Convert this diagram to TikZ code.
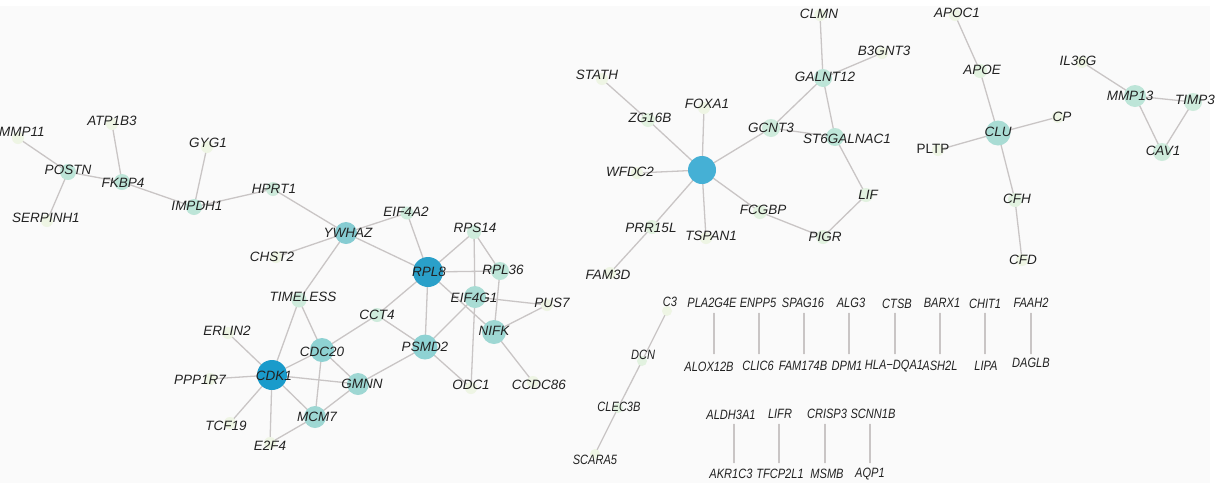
\documentclass[tikz,border=0pt]{standalone}
\usepackage{fontspec}
\setmainfont{Liberation Sans}
\pgfdeclarelayer{bg}
\pgfdeclarelayer{edges}
\pgfdeclarelayer{labels}
\pgfsetlayers{bg,edges,main,labels}
\definecolor{leaf}{HTML}{EEF5E4}
\definecolor{dk}{HTML}{1A9BCB}
\definecolor{dkb}{HTML}{2AA0C9}
\definecolor{hubc}{HTML}{45B0D5}
\definecolor{ma}{HTML}{86CCD2}
\definecolor{mb}{HTML}{8ED2D3}
\definecolor{mc}{HTML}{9ED7D3}
\definecolor{md}{HTML}{A9DCD4}
\definecolor{la}{HTML}{BDE5D8}
\definecolor{lb}{HTML}{CEEBDC}
\definecolor{lc}{HTML}{E2F2E0}
\definecolor{edgec}{HTML}{C9C5C5}
\definecolor{bgc}{HTML}{FAFAFA}
\definecolor{txt}{HTML}{222222}
\tikzset{
  nd/.style={circle, inner sep=0pt, draw=none},
  lab/.style={inner sep=0pt, text=txt, font=\fontsize{13.5}{14}\selectfont\itshape},
  edge/.style={draw=edgec, line width=1.3pt},
}
\newcommand\nar[1]{\scalebox{0.82}[1]{#1}}
\newcommand\G[8]{%
  \node[nd, minimum size=#4pt, fill=#5] (#1) at (#2,#3) {};
  \begin{pgfonlayer}{labels}\node[lab] (#1-l) at (#6,#7) {#8};\end{pgfonlayer}}
\begin{document}
\begin{tikzpicture}[x=1pt,y=-1pt]
\begin{pgfonlayer}{bg}
\fill[white] (0,0) rectangle (1221,483);
\fill[bgc] (0,6) rectangle (1210,483);
\end{pgfonlayer}
\useasboundingbox (0,0) rectangle (1221,483);
% left cluster
\G{mmp11}{18}{138}{12}{leaf}{22}{132}{MMP11}
\G{postn}{68}{172}{16}{la}{68}{170}{POSTN}
\G{serpinh1}{47}{221}{12}{leaf}{46}{218}{SERPINH1}
\G{atp1b3}{112}{124}{12}{leaf}{112}{121}{ATP1B3}
\G{fkbp4}{122}{182}{16}{la}{123}{183}{FKBP4}
\G{impdh1}{194}{207}{16}{la}{197}{206}{IMPDH1}
\G{gyg1}{207}{147}{12}{leaf}{208}{143}{GYG1}
\G{hprt1}{273}{189}{14}{lb}{274}{189}{HPRT1}
\G{ywhaz}{346}{233}{22}{ma}{348}{233}{YWHAZ}
\G{eif4a2}{407}{213}{13}{lb}{406}{212}{EIF4A2}
\G{chst2}{276}{257}{12}{leaf}{272}{257}{CHST2}
\G{rpl8}{428}{272}{30}{dkb}{429}{272}{RPL8}
\G{rps14}{474}{232}{14}{lb}{475}{228}{RPS14}
\G{rpl36}{500}{271}{18}{la}{503}{270}{RPL36}
\G{eif4g1}{475}{297}{22}{md}{474}{298}{EIF4G1}
\G{pus7}{547}{305}{12}{leaf}{552}{303}{PUS7}
\G{nifk}{494}{332}{24}{mc}{494}{331}{NIFK}
\G{ccdc86}{533}{382}{12}{leaf}{539}{385}{CCDC86}
\G{odc1}{471}{388}{12}{leaf}{471}{385}{ODC1}
\G{psmd2}{425}{347}{25}{mb}{425}{347}{PSMD2}
\G{cct4}{377}{315}{14}{lb}{377}{315}{CCT4}
\G{timeless}{299}{300}{15}{lb}{303}{297}{TIMELESS}
\G{cdc20}{322}{350}{24}{mb}{322}{352}{CDC20}
\G{gmnn}{358}{384}{22}{mc}{362}{384}{GMNN}
\G{cdk1}{272}{375}{30}{dk}{274}{376}{CDK1}
\G{erlin2}{228}{333}{12}{leaf}{227}{331}{ERLIN2}
\G{ppp1r7}{210}{379}{12}{leaf}{200}{380}{PPP1R7}
\G{tcf19}{230}{423}{12}{leaf}{226}{426}{TCF19}
\G{e2f4}{270}{443}{12}{leaf}{270}{446}{E2F4}
\G{mcm7}{315}{417}{22}{mc}{317}{417}{MCM7}
% middle cluster
\node[nd, minimum size=28pt, fill=hubc] (hub) at (702,170) {};
\G{stath}{602}{79}{12}{leaf}{597}{75}{STATH}
\G{zg16b}{648}{120}{14}{lc}{650}{118}{ZG16B}
\G{foxa1}{704}{108}{12}{leaf}{707}{104}{FOXA1}
\G{wfdc2}{637}{173}{12}{leaf}{630}{172}{WFDC2}
\G{prr15l}{652}{227}{14}{lc}{651}{228}{PRR15L}
\G{fam3d}{610}{273}{12}{leaf}{608}{275}{FAM3D}
\G{tspan1}{706}{238}{12}{leaf}{711}{236}{TSPAN1}
\G{fcgbp}{760}{212}{14}{lc}{763}{210}{FCGBP}
\G{pigr}{823}{237}{14}{lc}{825}{237}{PIGR}
\G{lif}{866}{195}{14}{lc}{868}{195}{LIF}
\G{st6}{835}{137}{18}{la}{847}{139}{ST6GALNAC1}
\G{gcnt3}{771}{128}{18}{lb}{771}{128}{GCNT3}
\G{galnt12}{823}{78}{18}{la}{825}{77}{GALNT12}
\G{clmn}{820}{15}{12}{leaf}{819}{14}{CLMN}
\G{b3gnt3}{882}{53}{12}{leaf}{884}{51}{B3GNT3}
% right clusters
\G{apoc1}{955}{15}{12}{leaf}{957}{13}{APOC1}
\G{apoe}{980}{71}{14}{lc}{982}{70}{APOE}
\G{clu}{998}{133}{25}{md}{998}{132}{CLU}
\G{cp}{1058}{117}{12}{leaf}{1062}{117}{CP}
\G{pltp}{938}{150}{12}{leaf}{933}{149}{\upshape PLTP}
\G{cfh}{1015}{200}{14}{lc}{1017}{199}{CFH}
\G{cfd}{1022}{260}{12}{leaf}{1023}{260}{CFD}
\G{il36g}{1082}{62}{12}{leaf}{1078}{61}{IL36G}
\G{mmp13}{1135}{96}{22}{la}{1130}{96}{MMP13}
\G{timp3}{1193}{102}{18}{lb}{1195}{100}{TIMP3}
\G{cav1}{1162}{152}{18}{lb}{1163}{151}{CAV1}
% bottom chain
\G{c3}{667}{311}{10}{leaf}{670}{302}{\nar{C3}}
\G{dcn}{642}{361}{10}{lc}{643}{355}{\nar{DCN}}
\G{clec3b}{618}{408}{10}{lc}{619}{407}{\nar{CLEC3B}}
\G{scara5}{595}{454}{10}{leaf}{595}{460}{\nar{SCARA5}}
% bottom pairs, row 1
\G{pla2g4e}{714}{310}{6}{bgc}{712}{303}{\nar{PLA2G4E}}
\G{alox12b}{714}{357}{6}{bgc}{709}{367}{\nar{ALOX12B}}
\G{enpp5}{759}{310}{6}{bgc}{758}{303}{\nar{ENPP5}}
\G{clic6}{759}{357}{6}{bgc}{758}{366}{\nar{CLIC6}}
\G{spag16}{804}{310}{6}{bgc}{803}{303}{\nar{SPAG16}}
\G{fam174b}{804}{357}{6}{bgc}{803}{366}{\nar{FAM174B}}
\G{alg3}{849}{310}{6}{bgc}{851}{303}{\nar{ALG3}}
\G{dpm1}{849}{357}{6}{bgc}{847}{366}{\nar{DPM1}}
\G{ctsb}{895}{310}{6}{bgc}{897}{304}{\nar{CTSB}}
\G{hladqa1}{895}{357}{6}{bgc}{894}{366}{\nar{HLA−DQA1}}
\G{barx1}{940}{310}{6}{bgc}{942}{303}{\nar{BARX1}}
\G{ash2l}{940}{357}{6}{bgc}{940}{366}{\nar{ASH2L}}
\G{chit1}{985}{310}{6}{bgc}{985}{304}{\nar{CHIT1}}
\G{lipa}{985}{357}{6}{bgc}{986}{366}{\nar{LIPA}}
\G{faah2}{1031}{310}{6}{bgc}{1031}{303}{\nar{FAAH2}}
\G{daglb}{1031}{357}{6}{bgc}{1031}{363}{\nar{DAGLB}}
% bottom pairs, row 2
\G{aldh3a1}{734}{421}{6}{bgc}{731}{415}{\nar{ALDH3A1}}
\G{akr1c3}{734}{466}{6}{bgc}{731}{474}{\nar{AKR1C3}}
\G{lifr}{779}{421}{6}{bgc}{780}{414}{\nar{LIFR}}
\G{tfcp2l1}{779}{466}{6}{bgc}{780}{474}{\nar{TFCP2L1}}
\G{crisp3}{825}{421}{6}{bgc}{827}{414}{\nar{CRISP3}}
\G{msmb}{825}{466}{6}{bgc}{827}{474}{\nar{MSMB}}
\G{scnn1b}{870}{421}{6}{bgc}{873}{414}{\nar{SCNN1B}}
\G{aqp1}{870}{466}{6}{bgc}{870}{474}{\nar{AQP1}}
% edges
\begin{pgfonlayer}{edges}
\foreach \a/\b in {mmp11/postn, serpinh1/postn, postn/fkbp4, atp1b3/fkbp4,
  fkbp4/impdh1, gyg1/impdh1, impdh1/hprt1, hprt1/ywhaz, ywhaz/eif4a2,
  ywhaz/chst2, ywhaz/rpl8, ywhaz/timeless, eif4a2/rpl8, rpl8/rps14,
  rpl8/rpl36, rpl8/cct4, rpl8/psmd2, rpl8/nifk, rps14/eif4g1, rps14/rpl36,
  eif4g1/odc1, rpl36/nifk, eif4g1/pus7, eif4g1/psmd2, nifk/pus7,
  nifk/ccdc86, psmd2/odc1, psmd2/cct4, psmd2/gmnn, cct4/cdc20,
  timeless/cdk1, timeless/cdc20, cdc20/cdk1, cdc20/gmnn, cdc20/mcm7,
  cdk1/gmnn, cdk1/mcm7, cdk1/erlin2, cdk1/ppp1r7, cdk1/tcf19, cdk1/e2f4,
  mcm7/e2f4, mcm7/gmnn,
  stath/zg16b, zg16b/hub, foxa1/hub, wfdc2/hub, prr15l/hub, prr15l/fam3d,
  tspan1/hub, fcgbp/hub, hub/gcnt3, gcnt3/galnt12, gcnt3/st6,
  galnt12/clmn, galnt12/b3gnt3, galnt12/st6, st6/lif, lif/pigr, fcgbp/pigr,
  apoc1/apoe, apoe/clu, clu/cp, clu/pltp, clu/cfh, cfh/cfd,
  il36g/mmp13, mmp13/timp3, mmp13/cav1, timp3/cav1,
  c3/dcn, dcn/clec3b, clec3b/scara5,
  pla2g4e/alox12b, enpp5/clic6, spag16/fam174b, alg3/dpm1, ctsb/hladqa1,
  barx1/ash2l, chit1/lipa, faah2/daglb,
  aldh3a1/akr1c3, lifr/tfcp2l1, crisp3/msmb, scnn1b/aqp1}
  \draw[edge] (\a.center) -- (\b.center);
\end{pgfonlayer}
\end{tikzpicture}
\end{document}
